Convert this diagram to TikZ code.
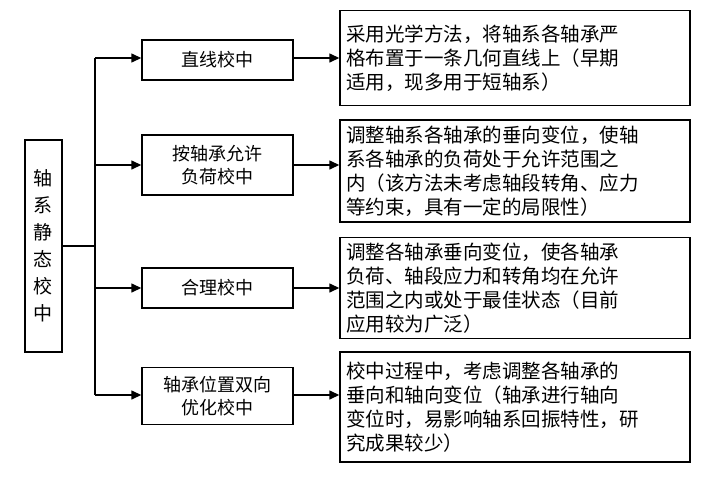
\documentclass[tikz,border=0pt]{standalone}
\usepackage{fontspec}
\newfontfamily\cjk{Noto Sans CJK SC}
\usetikzlibrary{arrows.meta}
\begin{document}
\begin{tikzpicture}[x=1pt,y=-1pt,
  bx/.style={draw,line width=1.4pt,font=\cjk\fontsize{18}{23}\selectfont,inner sep=0pt},
  mid/.style={bx,minimum width=151pt,align=center},
  rt/.style={bx,minimum width=350pt,align=left,text width=338pt,font=\cjk\fontsize{19.5}{24}\selectfont},
  ar/.style={line width=1.4pt,-{Triangle[length=10pt,width=9pt]}},
  ln/.style={line width=1.4pt}]
\useasboundingbox (0,0) rectangle (705,477);
\node[bx,minimum width=37pt,minimum height=212pt,align=center,font=\cjk\fontsize{19}{27}\selectfont] (L) at (43.5,246) {轴\\系\\静\\态\\校\\中};
\coordinate (J) at (95,246);
\coordinate (T1) at (95,58); \coordinate (T2) at (95,165);
\coordinate (T3) at (95,288); \coordinate (T4) at (95,395);
\node[mid,minimum height=40pt] (m1) at (217.5,60) {直线校中};
\node[mid,minimum height=60pt] (m2) at (217.5,165) {按轴承允许\\负荷校中};
\node[mid,minimum height=40pt] (m3) at (217.5,288) {合理校中};
\node[mid,minimum height=57pt] (m4) at (217.5,396) {轴承位置双向\\优化校中};
\node[rt,minimum height=95pt] (r1) at (515,58) {采用光学方法，将轴系各轴承严\\格布置于一条几何直线上（早期\\适用，现多用于短轴系）};
\node[rt,minimum height=102pt] (r2) at (515,171) {调整轴系各轴承的垂向变位，使轴\\系各轴承的负荷处于允许范围之\\内（该方法未考虑轴段转角、应力\\等约束，具有一定的局限性）};
\node[rt,minimum height=101pt] (r3) at (515,288) {调整各轴承垂向变位，使各轴承\\负荷、轴段应力和转角均在允许\\范围之内或处于最佳状态（目前\\应用较为广泛）};
\node[rt,minimum height=110pt] (r4) at (515,407) {校中过程中，考虑调整各轴承的\\垂向和轴向变位（轴承进行轴向\\变位时，易影响轴系回振特性，研\\究成果较少）};
\draw[ln] (L.east) -- (J);
\draw[ln] (T1) -- (T4);
\draw[ar] (T1) -- (m1.west|-T1);
\draw[ar] (T2) -- (m2.west|-T2);
\draw[ar] (T3) -- (m3.west|-T3);
\draw[ar] (T4) -- (m4.west|-T4);
\draw[ar] (m1.east|-T1) -- (r1.west|-T1);
\draw[ar] (m2.east|-T2) -- (r2.west|-T2);
\draw[ar] (m3.east|-T3) -- (r3.west|-T3);
\draw[ar] (m4.east|-T4) -- (r4.west|-T4);
\end{tikzpicture}
\end{document}
